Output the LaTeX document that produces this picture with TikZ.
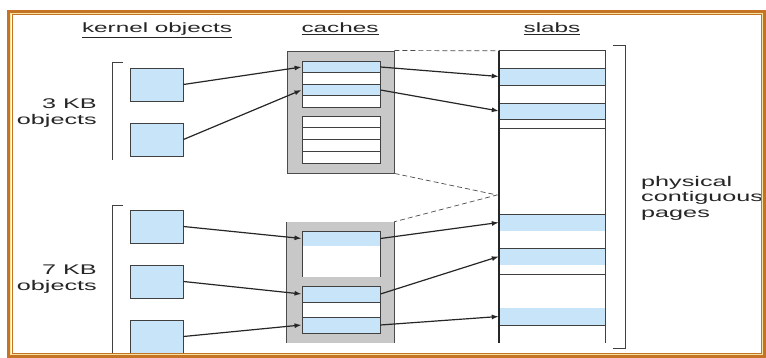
\documentclass[tikz,border=0pt]{standalone}
\usepackage{fontspec}
\setmainfont{Liberation Sans}[FakeStretch=1.8]
\usetikzlibrary{arrows.meta,positioning}
\definecolor{slabblue}{RGB}{200,228,248}
\definecolor{cachegray}{RGB}{200,200,200}
\definecolor{framebrown}{RGB}{196,116,36}
\definecolor{frameyellow}{RGB}{246,226,160}

\begin{document}
\begin{tikzpicture}[x=1pt,y=-1pt,
  kobj/.style={draw=black!75,line width=0.9pt,fill=slabblue,minimum width=53pt,minimum height=33pt,inner sep=0pt},
  slot/.style={draw=black!75,line width=0.9pt,fill=white,minimum width=78pt,minimum height=#1,inner sep=0pt},
  slot/.default=12pt,
  slabrow/.style={fill=slabblue,minimum width=106pt,minimum height=#1,inner sep=0pt},
  link/.style={-{Latex[length=7pt,width=5pt]},line width=1.2pt,black!85},
  guide/.style={dash pattern=on 5pt off 3pt,black!70,line width=0.7pt},
  head/.style={font=\fontsize{13.5}{16}\selectfont,inner sep=0pt,text=black!85},
  side/.style={font=\fontsize{14}{15.5}\selectfont,inner sep=0pt,text=black!85}]
\useasboundingbox (0,0) rectangle (766,358);
\fill[white] (0,0) rectangle (766,358);

\node[head,anchor=base] (hk) at (157,33) {\underline{kernel objects}};
\node[head,anchor=base] (hc) at (340,33) {\underline{caches}};
\node[head,anchor=base] (hs) at (552,33) {\underline{slabs}};

\node[side,anchor=east,align=right] (l3) at (97,113) {3 KB\\objects};
\node[side,anchor=east,align=right] (l7) at (97,279) {7 KB\\objects};
\node[side,anchor=west,align=left] (lp) at (641,198) {physical\\contiguous\\pages};

\draw[black!75,line width=0.9pt] (123,62) -- (112,62) -- (112,160);
\draw[black!75,line width=0.9pt] (123,205) -- (112,205) -- (112,356);
\draw[black!75,line width=0.9pt] (613,45) -- (625,45) -- (625,348) -- (613,348);

\foreach \y/\n in {84.5/ka1,139.5/ka2,226.5/kb1,281.5/kb2,336.5/kb3}
  \node[kobj] (\n) at (156.5,\y) {};

\node[draw=black!70,line width=0.9pt,fill=cachegray,minimum width=107pt,minimum height=122pt] (cacheA) at (340.5,112) {};
\node[fill=cachegray,minimum width=107pt,minimum height=121pt] (cacheB) at (340.5,282.5) {};
\draw[black!70,line width=0.9pt] (cacheB.north west) -- (cacheB.south west);
\draw[black!70,line width=0.9pt] (cacheB.north east) -- (cacheB.south east);

\foreach \y/\c [count=\i] in {67/slabblue,78.5/white,90/slabblue,101.5/white}
  \node[slot=11.5pt,fill=\c] (ua\i) at (341,\y) {};
\foreach \y [count=\i] in {121.9,133.6,145.4,157.1}
  \node[slot=11.75pt] (ub\i) at (341,\y) {};

\node[slot=15pt,fill=slabblue] (la) at (341,238.5) {};
\fill[white] (302,246) rectangle (380,277);
\draw[black!75,line width=0.9pt] (302,246) -- (302,277);
\draw[black!75,line width=0.9pt] (380,246) -- (380,277);
\node[slot=16pt,fill=slabblue] (lb1) at (341,294) {};
\node[slot=15pt] (lb2) at (341,309.5) {};
\node[slot=16pt,fill=slabblue] (lb3) at (341,325) {};

\node[minimum width=106pt,minimum height=292pt,inner sep=0pt] (slabs) at (552,197) {};
\foreach \y/\h [count=\i] in {76.5/17pt,111/16pt,222.5/17pt,256.5/17pt,316.5/17pt}
  \node[slabrow=\h] (sb\i) at (552,\y) {};
\foreach \y in {68,85,103,119,128,214,248,274,325}
  \draw[black!75,line width=0.9pt] (499,\y) -- (605,\y);
\draw[black!75,line width=0.9pt] (slabs.north west) -- (slabs.north east) -- (slabs.south east);
\draw[line width=1.5pt,black!85] (slabs.north west) -- (slabs.south west);

\coordinate (meet) at (497,195);
\draw[guide] (cacheA.north east) -- (slabs.north west);
\draw[guide] (cacheA.south east) -- (meet) -- (cacheB.north east);

\draw[link] (ka1.east) -- (ua1.west);
\draw[link] (ka2.east) -- (ua3.west);
\draw[link] (ua1.east) -- (sb1.west);
\draw[link] (ua3.east) -- (sb2.west);
\draw[link] (kb1.east) -- (la.west);
\draw[link] (kb2.east) -- (lb1.west);
\draw[link] (kb3.east) -- (lb3.west);
\draw[link] (la.east) -- (sb3.west);
\draw[link] (lb1.east) -- (sb4.west);
\draw[link] (lb3.east) -- (sb5.west);

\draw[framebrown,line width=3pt] (8.5,11.5) rectangle (764.5,356.5);
\draw[frameyellow,line width=1pt] (10.5,13.5) rectangle (762.5,354.5);
\draw[framebrown,line width=1pt] (12,15) rectangle (761,353);
\end{tikzpicture}
\end{document}
